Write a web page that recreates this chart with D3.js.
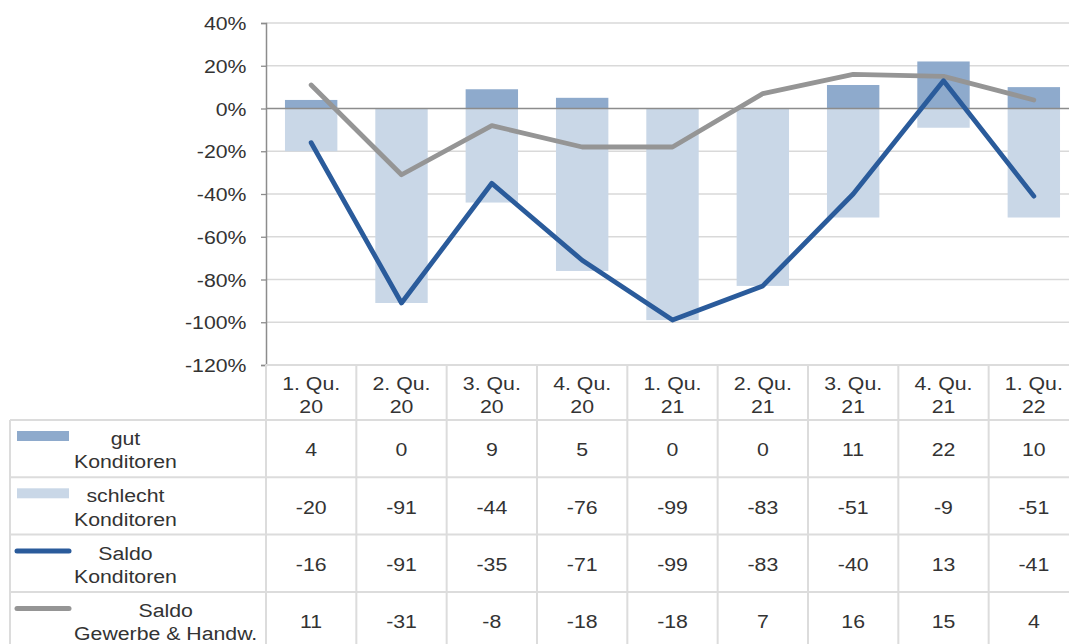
<!DOCTYPE html>
<html>
<head>
<meta charset="utf-8">
<script src="https://cdn.jsdelivr.net/npm/d3@7/dist/d3.min.js"></script>
<style>
  body { margin: 0; background: #fff; }
  svg text { font-family: "Liberation Sans", Arial, sans-serif; fill: #333; }
</style>
</head>
<body>
<svg></svg>
<script>
let quarters = ['1. Qu.|20', '2. Qu.|20', '3. Qu.|20', '4. Qu.|20', '1. Qu.|21', '2. Qu.|21', '3. Qu.|21', '4. Qu.|21', '1. Qu.|22']
let gut = [4, 0, 9, 5, 0, 0, 11, 22, 10]
let schlecht = [-20, -91, -44, -76, -99, -83, -51, -9, -51]
let saldoKonditoren = [-16, -91, -35, -71, -99, -83, -40, 13, -41]
let saldoGewerbe = [11, -31, -8, -18, -18, 7, 16, 15, 4]
let yTicks = [40, 20, 0, -20, -40, -60, -80, -100, -120]

let seriesNames = [
  {lines: ['gut', 'Konditoren'], type: 'bar', color: '#8eaacc', values: gut},
  {lines: ['schlecht', 'Konditoren'], type: 'bar', color: '#c9d7e7', values: schlecht},
  {lines: ['Saldo', 'Konditoren'], type: 'line', color: '#2a5b9b', values: saldoKonditoren},
  {lines: ['Saldo', 'Gewerbe & Handw.'], type: 'line', color: '#959595', values: saldoGewerbe}
]

let width = 1069
let height = 644
let plotLeft = 266
let plotRight = 1079
let plotTop = 23
let plotBottom = 365
let rowTop = 420
let rowH = 57.3
let tableLeft = 10
let fontSize = '19px'
let stretch = 1.12   // text in the original is a bit wider than Arial

let svg = d3.select('svg').attr('width', width).attr('height', height)

let xScale = d3.scaleBand()
               .domain(quarters)
               .range([plotLeft, plotRight])

let yScale = d3.scaleLinear()
               .domain([-120, 40])
               .range([plotBottom, plotTop])

let cx = q => xScale(q) + xScale.bandwidth() / 2

// wide text helper: lines are tspans at absolute y, centred at x
let wideText = (x, ys, lines) => {
  let t = svg.append('text')
             .attr('transform', 'translate(' + x + ',0) scale(' + stretch + ',1)')
             .attr('text-anchor', 'middle')
             .style('font-size', fontSize)
  lines.forEach((l, i) => {
    t.append('tspan').attr('x', 0).attr('y', ys[i]).text(l)
  })
  return t
}

// gridlines
svg.append('g')
   .selectAll('line')
   .data(yTicks.filter(t => t != 0 && t != -120))
   .enter()
   .append('line')
   .attr('x1', plotLeft).attr('x2', plotRight)
   .attr('y1', d => yScale(d)).attr('y2', d => yScale(d))
   .attr('stroke', '#d9d9d9')
   .attr('stroke-width', 1.3)

// bars
let barW = xScale.bandwidth() * 0.58
svg.append('g')
   .selectAll('rect')
   .data(schlecht)
   .enter()
   .append('rect')
   .attr('x', (d, i) => xScale(quarters[i]) + (xScale.bandwidth() - barW) / 2)
   .attr('width', barW)
   .attr('y', yScale(0))
   .attr('height', d => yScale(d) - yScale(0))
   .attr('fill', '#c9d7e7')

svg.append('g')
   .selectAll('rect')
   .data(gut)
   .enter()
   .append('rect')
   .attr('x', (d, i) => xScale(quarters[i]) + (xScale.bandwidth() - barW) / 2)
   .attr('width', barW)
   .attr('y', d => yScale(d))
   .attr('height', d => yScale(0) - yScale(d))
   .attr('fill', '#8eaacc')

// zero line
svg.append('line')
   .attr('x1', plotLeft).attr('x2', plotRight)
   .attr('y1', yScale(0)).attr('y2', yScale(0))
   .attr('stroke', '#8c8c8c')
   .attr('stroke-width', 1.3)

// lines
let line = d3.line()
             .x((d, i) => cx(quarters[i]))
             .y(d => yScale(d))

svg.append('path')
   .datum(saldoGewerbe)
   .attr('d', line)
   .attr('fill', 'none')
   .attr('stroke', '#959595')
   .attr('stroke-width', 4.8)
   .attr('stroke-linecap', 'round')
   .attr('stroke-linejoin', 'round')

svg.append('path')
   .datum(saldoKonditoren)
   .attr('d', line)
   .attr('fill', 'none')
   .attr('stroke', '#2a5b9b')
   .attr('stroke-width', 4.8)
   .attr('stroke-linecap', 'round')
   .attr('stroke-linejoin', 'round')

// y axis
let yAxis = d3.axisLeft(yScale)
              .tickValues(yTicks)
              .tickSize(5)
              .tickFormat(d => d + '%')

let yAxisG = svg.append('g')
   .attr('transform', 'translate(' + plotLeft + ', 0)')
   .call(yAxis)
yAxisG.select('.domain').attr('stroke', '#8c8c8c').attr('stroke-width', 1.5)
yAxisG.selectAll('.tick line').attr('stroke', '#8c8c8c').attr('stroke-width', 1.3)
yAxisG.selectAll('.tick text')
      .style('font-size', fontSize)
      .attr('fill', '#333')
      .attr('x', -19.5 / stretch)
      .attr('dy', '0.35em')
      .attr('transform', 'scale(' + stretch + ',1)')

// data table
let grid = svg.append('g').attr('stroke', '#dcdcdc').attr('stroke-width', 2)
grid.append('line').attr('x1', plotLeft).attr('x2', plotRight).attr('y1', plotBottom).attr('y2', plotBottom)
for (let r = 0; r <= 4; r++) {
  grid.append('line')
      .attr('x1', tableLeft).attr('x2', plotRight)
      .attr('y1', rowTop + r * rowH).attr('y2', rowTop + r * rowH)
}
grid.append('line').attr('x1', tableLeft).attr('x2', tableLeft).attr('y1', rowTop).attr('y2', height)
quarters.concat(['end']).forEach((q, i) => {
  let x = i < quarters.length ? xScale(q) : plotRight
  grid.append('line').attr('x1', x).attr('x2', x).attr('y1', plotBottom).attr('y2', height)
})

// header labels
quarters.forEach(q => {
  wideText(cx(q), [390, 413.5], q.split('|'))
})

// rows
seriesNames.forEach((s, r) => {
  let y0 = rowTop + r * rowH
  if (s.type == 'bar') {
    svg.append('rect')
       .attr('x', 17).attr('y', y0 + 11)
       .attr('width', 52).attr('height', 10)
       .attr('fill', s.color)
  } else {
    svg.append('line')
       .attr('x1', 17).attr('x2', 69)
       .attr('y1', y0 + 16.5).attr('y2', y0 + 16.5)
       .attr('stroke', s.color)
       .attr('stroke-width', 5)
       .attr('stroke-linecap', 'round')
  }
  let tmp = svg.append('text').style('font-size', fontSize)
  let maxW = d3.max(s.lines, l => { tmp.text(l); return tmp.node().getComputedTextLength() }) * stretch
  tmp.remove()
  wideText(74 + maxW / 2, [y0 + 25, y0 + 48.5], s.lines)

  s.values.forEach((v, i) => {
    wideText(cx(quarters[i]), [y0 + 36.5], [String(v)])
  })
})
</script>
</body>
</html>
